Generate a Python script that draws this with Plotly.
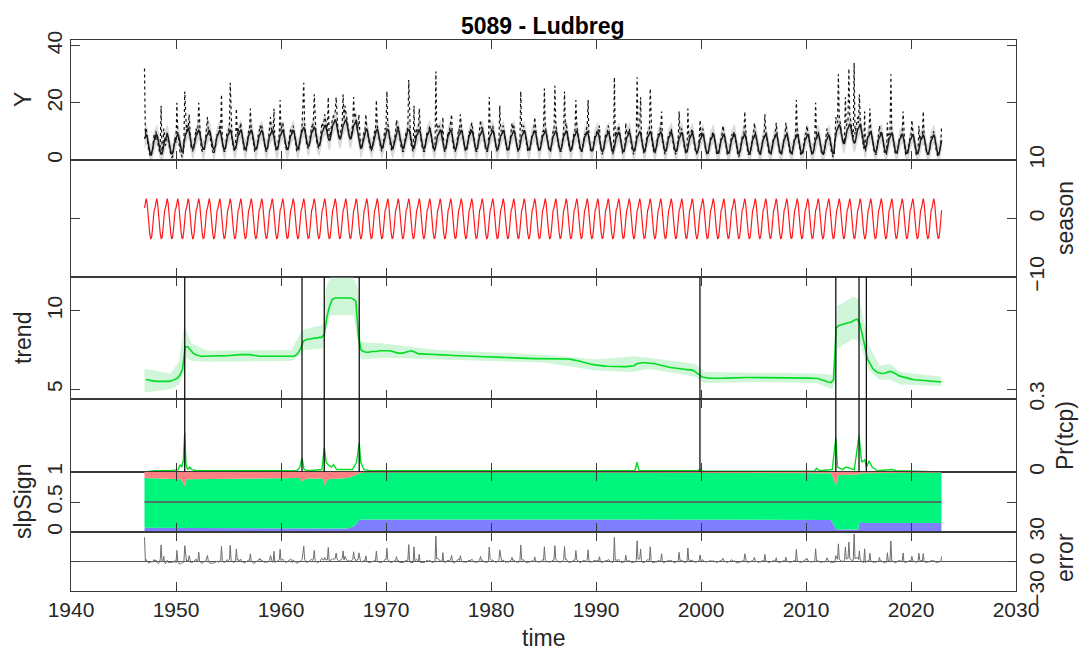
import numpy as np
import plotly.graph_objects as go

FONT = "Liberation Sans, Arial, Helvetica, sans-serif"

# ---------------- data ----------------
first_year = 1947
# monthly observations (rows: 1947..2022, Jan..Dec)
y_obs_rows = [
    [32, 9, 11, 8, 5, 3, 2, 1, 2, 3, 6, 9],      # 1947
    [7, 10, 8, 6, 4, 3, 5, 19, 2, 4, 11, 6],     # 1948
    [5, 8, 10, 7, 5, 3, 2, 1, 1, 3, 6, 8],       # 1949
    [6, 20, 9, 8, 4, 2, 2, 1, 2, 5, 24, 12],     # 1950
    [10, 12, 11, 16, 8, 5, 4, 3, 4, 6, 9, 11],   # 1951
    [9, 11, 20, 10, 7, 4, 3, 3, 3, 5, 8, 12],    # 1952
    [15, 10, 9, 8, 6, 4, 3, 2, 3, 4, 7, 9],      # 1953
    [8, 10, 12, 11, 23, 6, 4, 3, 3, 5, 9, 10],   # 1954
    [10, 12, 27, 11, 8, 5, 4, 3, 4, 18, 9, 11],  # 1955
    [9, 12, 13, 10, 7, 5, 3, 3, 3, 5, 8, 10],    # 1956
    [10, 18, 11, 9, 7, 4, 3, 3, 4, 5, 9, 10],    # 1957
    [12, 11, 12, 10, 7, 5, 4, 3, 3, 5, 8, 10],   # 1958
    [15, 11, 10, 9, 18, 5, 4, 3, 4, 6, 9, 21],   # 1959
    [10, 12, 13, 11, 7, 5, 4, 3, 4, 6, 9, 11],   # 1960
    [11, 9, 12, 10, 7, 5, 3, 3, 3, 5, 8, 10],    # 1961
    [12, 19, 27, 13, 9, 6, 5, 4, 5, 7, 10, 12],  # 1962
    [11, 14, 23, 12, 9, 6, 5, 4, 5, 7, 11, 13],  # 1963
    [12, 13, 16, 14, 12, 10, 22, 8, 8, 10, 13, 15],  # 1964
    [15, 16, 17, 22, 14, 11, 9, 8, 9, 11, 14, 23],   # 1965
    [14, 19, 17, 15, 12, 10, 9, 8, 8, 10, 13, 22],   # 1966
    [15, 16, 14, 13, 11, 16, 6, 4, 4, 5, 8, 10],     # 1967
    [10, 16, 11, 9, 7, 5, 4, 3, 4, 5, 8, 10],    # 1968
    [10, 21, 12, 10, 7, 5, 4, 3, 4, 5, 9, 11],   # 1969
    [11, 24, 13, 11, 8, 5, 4, 3, 4, 6, 9, 10],   # 1970
    [14, 11, 12, 9, 7, 5, 4, 3, 3, 5, 8, 10],    # 1971
    [10, 12, 28, 10, 7, 5, 4, 3, 19, 6, 9, 11],  # 1972
    [10, 11, 18, 9, 7, 5, 4, 3, 3, 5, 8, 10],    # 1973
    [9, 11, 12, 10, 7, 5, 4, 3, 4, 31, 10, 12],  # 1974
    [11, 12, 11, 10, 8, 15, 4, 3, 3, 5, 8, 10],  # 1975
    [9, 11, 13, 16, 7, 5, 3, 3, 4, 6, 9, 11],    # 1976
    [10, 16, 12, 10, 7, 5, 4, 3, 3, 5, 8, 10],   # 1977
    [9, 11, 13, 11, 8, 5, 4, 3, 3, 5, 8, 10],    # 1978
    [14, 11, 12, 10, 7, 5, 4, 3, 3, 5, 22, 11],  # 1979
    [10, 11, 12, 10, 8, 5, 4, 3, 4, 6, 19, 11],  # 1980
    [10, 11, 12, 10, 7, 5, 4, 3, 3, 5, 8, 10],   # 1981
    [13, 11, 12, 10, 7, 5, 4, 3, 3, 5, 24, 11],  # 1982
    [10, 12, 11, 9, 7, 5, 3, 3, 3, 5, 8, 9],     # 1983
    [9, 11, 15, 10, 8, 5, 4, 3, 3, 5, 8, 10],    # 1984
    [10, 25, 12, 10, 7, 5, 4, 3, 3, 5, 8, 10],   # 1985
    [10, 26, 13, 11, 8, 5, 4, 3, 3, 5, 8, 10],   # 1986
    [24, 12, 13, 10, 7, 5, 4, 3, 3, 5, 8, 10],   # 1987
    [10, 21, 12, 10, 7, 5, 3, 3, 3, 5, 8, 9],    # 1988
    [9, 11, 12, 21, 7, 5, 3, 3, 3, 5, 8, 9],     # 1989
    [9, 10, 11, 10, 12, 5, 3, 2, 3, 4, 7, 9],    # 1990
    [9, 10, 12, 10, 7, 5, 3, 2, 3, 29, 8, 10],   # 1991
    [9, 11, 12, 10, 7, 4, 3, 2, 3, 4, 13, 9],    # 1992
    [9, 10, 11, 9, 6, 4, 3, 2, 3, 4, 8, 29],     # 1993
    [11, 12, 13, 22, 7, 5, 3, 2, 3, 5, 8, 10],   # 1994
    [10, 11, 25, 10, 7, 4, 3, 2, 3, 4, 7, 9],    # 1995
    [9, 10, 12, 17, 7, 4, 3, 2, 3, 5, 8, 9],     # 1996
    [9, 10, 11, 9, 6, 4, 3, 2, 3, 4, 8, 17],     # 1997
    [9, 10, 11, 9, 6, 4, 3, 2, 3, 18, 8, 9],     # 1998
    [9, 10, 11, 9, 6, 4, 3, 2, 3, 4, 8, 14],     # 1999
    [8, 10, 11, 9, 6, 4, 3, 2, 2, 4, 7, 8],      # 2000
    [8, 9, 10, 8, 6, 4, 2, 2, 2, 4, 7, 8],       # 2001
    [9, 12, 10, 8, 6, 4, 2, 2, 2, 4, 7, 9],      # 2002
    [8, 9, 10, 8, 6, 3, 2, 1, 2, 3, 6, 8],       # 2003
    [8, 9, 17, 9, 6, 4, 2, 2, 2, 4, 7, 8],       # 2004
    [9, 13, 10, 8, 6, 4, 2, 2, 2, 4, 7, 8],      # 2005
    [8, 16, 10, 9, 6, 4, 2, 2, 2, 4, 7, 8],      # 2006
    [8, 9, 13, 8, 6, 4, 2, 2, 2, 4, 7, 8],       # 2007
    [8, 13, 10, 8, 6, 4, 2, 2, 2, 4, 7, 8],      # 2008
    [8, 21, 10, 9, 6, 4, 2, 2, 2, 4, 7, 9],      # 2009
    [9, 12, 10, 9, 6, 4, 3, 2, 2, 4, 7, 20],     # 2010
    [8, 9, 10, 8, 6, 4, 2, 2, 2, 3, 6, 8],       # 2011
    [11, 9, 9, 8, 5, 3, 2, 1, 2, 6, 15, 14],     # 2012
    [13, 30, 15, 13, 10, 8, 7, 6, 7, 22, 12, 13],    # 2013
    [14, 32, 16, 14, 11, 9, 8, 34, 9, 11, 14, 15],   # 2014
    [13, 23, 14, 12, 9, 6, 4, 17, 3, 5, 8, 9],       # 2015
    [9, 18, 11, 9, 6, 4, 3, 2, 2, 4, 7, 8],      # 2016
    [12, 9, 10, 9, 6, 4, 2, 2, 2, 13, 7, 9],     # 2017
    [9, 30, 10, 9, 6, 4, 2, 2, 2, 4, 7, 8],      # 2018
    [8, 9, 10, 17, 6, 4, 2, 2, 2, 4, 7, 8],      # 2019
    [8, 14, 10, 8, 6, 4, 2, 2, 2, 12, 7, 8],     # 2020
    [8, 9, 17, 8, 6, 3, 2, 2, 2, 3, 6, 8],       # 2021
    [8, 9, 10, 8, 5, 3, 2, 1, 2, 3, 6, 12],      # 2022
]

# seasonal component, Jan..Dec (same every year)
season_profile = [1.8, 3.0, 3.4, 2.6, 0.6, -1.2, -2.6, -3.4, -3.3, -2.0, 0.2, 1.4]

# trend, quarterly (rows: 1947..2022, Q1..Q4)
trend_q_rows = [
    [5.6, 5.6, 5.55, 5.5], [5.5, 5.5, 5.5, 5.5], [5.5, 5.5, 5.55, 5.6],
    [5.7, 5.9, 6.3, 7.7], [7.7, 7.5, 7.3, 7.2], [7.15, 7.1, 7.1, 7.1],
    [7.1, 7.1, 7.1, 7.1], [7.1, 7.1, 7.12, 7.14], [7.15, 7.17, 7.18, 7.2],
    [7.2, 7.2, 7.2, 7.2], [7.2, 7.15, 7.15, 7.1], [7.1, 7.1, 7.1, 7.1],
    [7.1, 7.1, 7.1, 7.1], [7.1, 7.1, 7.1, 7.1], [7.1, 7.15, 7.3, 7.6],
    [8.05, 8.15, 8.2, 8.2], [8.25, 8.25, 8.3, 8.3], [8.5, 9.6, 10.3, 10.7],
    [10.8, 10.8, 10.8, 10.8], [10.8, 10.8, 10.8, 10.75], [10.6, 8.4, 7.5, 7.4],
    [7.35, 7.35, 7.4, 7.4], [7.4, 7.45, 7.45, 7.45], [7.45, 7.45, 7.4, 7.35],
    [7.3, 7.3, 7.3, 7.35], [7.4, 7.45, 7.4, 7.3], [7.25, 7.25, 7.25, 7.24],
    [7.23, 7.22, 7.21, 7.2], [7.2, 7.19, 7.18, 7.17], [7.16, 7.15, 7.14, 7.13],
    [7.12, 7.12, 7.11, 7.1], [7.1, 7.09, 7.09, 7.08], [7.08, 7.07, 7.07, 7.07],
    [7.07, 7.06, 7.05, 7.04], [7.03, 7.02, 7.01, 7.0], [7.0, 6.99, 6.98, 6.98],
    [6.97, 6.97, 6.96, 6.96], [6.95, 6.95, 6.95, 6.94], [6.94, 6.94, 6.93, 6.93],
    [6.93, 6.93, 6.93, 6.93], [6.93, 6.92, 6.9, 6.88], [6.85, 6.8, 6.75, 6.7],
    [6.66, 6.62, 6.58, 6.55], [6.52, 6.5, 6.48, 6.47], [6.46, 6.45, 6.44, 6.44],
    [6.44, 6.44, 6.44, 6.44], [6.45, 6.46, 6.5, 6.62], [6.68, 6.69, 6.69, 6.68],
    [6.67, 6.65, 6.62, 6.58], [6.55, 6.5, 6.46, 6.42], [6.38, 6.35, 6.33, 6.3],
    [6.28, 6.27, 6.25, 6.24], [6.23, 6.15, 6.05, 5.9], [5.78, 5.74, 5.72, 5.71],
    [5.7, 5.7, 5.7, 5.7], [5.7, 5.71, 5.72, 5.73], [5.74, 5.75, 5.75, 5.75],
    [5.75, 5.75, 5.75, 5.75], [5.75, 5.75, 5.75, 5.75], [5.75, 5.75, 5.75, 5.75],
    [5.75, 5.75, 5.74, 5.74], [5.74, 5.73, 5.73, 5.72], [5.72, 5.72, 5.72, 5.72],
    [5.72, 5.71, 5.7, 5.7], [5.68, 5.62, 5.55, 5.5], [5.46, 5.42, 5.6, 8.9],
    [9.05, 9.1, 9.15, 9.2], [9.25, 9.3, 9.4, 9.45], [9.2, 8.4, 7.5, 6.9],
    [6.6, 6.3, 6.15, 6.05], [6.02, 6.0, 6.05, 6.12], [6.12, 6.05, 5.95, 5.85],
    [5.8, 5.75, 5.7, 5.66], [5.63, 5.6, 5.58, 5.57], [5.55, 5.53, 5.52, 5.5],
    [5.5, 5.49, 5.48, 5.47],
]

# half-width of the fitted-Y credible band
y_ci_half = 3.5

# trend credible interval (knots)
ci_t = [1947.0, 1949.5, 1950.3, 1950.8, 1951.0, 1951.5, 1953.0, 1961.0, 1961.8, 1962.2,
        1964.0, 1964.3, 1964.7, 1966.9, 1967.3, 1967.6, 1970.0, 1975.0, 1985.0, 1990.0,
        1993.5, 1995.0, 1999.5, 2000.3, 2005.0, 2011.0, 2012.5, 2012.8, 2013.0, 2014.5,
        2015.1, 2015.5, 2016.0, 2017.0, 2018.0, 2019.0, 2022.9]
ci_lo = [4.8, 5.0, 5.3, 6.2, 7.0, 6.8, 6.75, 6.8, 7.2, 7.5,
         7.6, 8.7, 9.7, 9.7, 8.0, 6.9, 7.0, 6.9, 6.7, 6.2,
         6.1, 6.3, 5.8, 5.4, 5.45, 5.4, 5.0, 5.5, 7.6, 8.2,
         8.0, 7.2, 6.2, 5.6, 5.6, 5.3, 5.2]
ci_hi = [6.3, 6.0, 6.8, 9.2, 8.7, 7.9, 7.45, 7.5, 8.5, 8.8,
         9.1, 11.5, 12.1, 12.1, 11.5, 8.0, 7.9, 7.5, 7.2, 6.9,
         7.1, 7.0, 6.6, 6.1, 6.05, 6.0, 5.9, 8.0, 10.3, 10.9,
         10.7, 9.3, 7.8, 6.5, 6.6, 6.1, 5.8]

# detected trend changepoints
cp_years = [1950.83, 1962.0, 1964.12, 1967.45, 1999.9, 2012.84, 2015.05, 2015.75]

# probability of trend changepoint (knots)
pr_t = [1947.0, 1948.0, 1949.5, 1950.2, 1950.4, 1950.55, 1950.7, 1950.83, 1950.95, 1951.1,
        1951.3, 1951.5, 1952.0, 1961.5, 1961.8, 1962.0, 1962.2, 1962.6, 1963.9, 1964.12,
        1964.3, 1964.5, 1964.8, 1965.0, 1965.3, 1966.8, 1967.2, 1967.45, 1967.6, 1967.9,
        1968.5, 1993.7, 1993.9, 1994.1, 1999.6, 1999.9, 2000.2, 2010.8, 2011.0, 2011.3,
        2012.5, 2012.84, 2013.0, 2013.5, 2013.8, 2014.2, 2014.6, 2015.05, 2015.3, 2015.6,
        2015.75, 2016.0, 2016.3, 2016.8, 2018.2, 2018.6, 2022.9]
pr_v = [0.0, 0.005, 0.005, 0.01, 0.03, 0.02, 0.05, 0.16, 0.03, 0.01,
        0.02, 0.01, 0.005, 0.005, 0.02, 0.058, 0.01, 0.005, 0.01, 0.10,
        0.04, 0.03, 0.02, 0.03, 0.01, 0.01, 0.04, 0.12, 0.04, 0.01,
        0.005, 0.005, 0.04, 0.005, 0.005, 0.01, 0.003, 0.003, 0.015, 0.005,
        0.01, 0.14, 0.02, 0.01, 0.02, 0.015, 0.01, 0.15, 0.04, 0.05,
        0.02, 0.045, 0.02, 0.005, 0.01, 0.005, 0.0]

# probability of positive / negative slope (knots)
slp_t = [1947.0, 1950.5, 1950.83, 1951.0, 1961.8, 1962.0, 1962.4, 1964.0, 1964.15, 1964.4,
         1966.3, 1967.0, 1967.45, 1968.0, 1990.0, 2012.4, 2012.85, 2013.1, 2015.0, 2015.05,
         2015.3, 2022.9]
slp_pos = [0.07, 0.07, 0.06, 0.06, 0.07, 0.07, 0.07, 0.06, 0.05, 0.06,
           0.06, 0.10, 0.20, 0.21, 0.21, 0.20, 0.05, 0.04, 0.04, 0.18,
           0.15, 0.15]
slp_neg = [0.10, 0.12, 0.24, 0.12, 0.10, 0.16, 0.11, 0.11, 0.22, 0.12,
           0.10, 0.06, 0.02, 0.01, 0.01, 0.02, 0.22, 0.05, 0.04, 0.02,
           0.02, 0.01]

x_ticks = [1940, 1950, 1960, 1970, 1980, 1990, 2000, 2010, 2020, 2030]

# ---------------- derived series ----------------
n_years = len(y_obs_rows)
t_month = np.array([first_year + i / 12.0 for i in range(n_years * 12)])
y_obs = np.array(y_obs_rows, dtype=float).ravel()
trend_q = np.array(trend_q_rows, dtype=float).ravel()
t_q = np.array([first_year + 0.125 + 0.25 * i for i in range(len(trend_q))])
season = np.tile(np.array(season_profile), n_years)
fitted = np.repeat(trend_q, 3) + season
error = y_obs - fitted
t_end = float(t_month[-1])

# ---------------- figure ----------------
W, H = 1081, 650
ML, MR, MT, MB = 71, 65, 40, 59
PW, PH = W - ML - MR, H - MT - MB
bounds = [40, 160, 277, 399, 472, 532, 591]


def px_x(px):
    return (px - ML) / PW


def px_y(py):
    return (H - MB - py) / PH


fig = go.Figure()
LINE_C = "#3a3a3a"
TXT_C = "#262626"

# panel 1: Y
fig.add_trace(go.Scatter(x=t_month, y=fitted - y_ci_half, mode="lines",
                         line=dict(width=0, color="#d9d9d9"), showlegend=False,
                         xaxis="x", yaxis="y", hoverinfo="skip"))
fig.add_trace(go.Scatter(x=t_month, y=fitted + y_ci_half, mode="lines", fill="tonexty",
                         fillcolor="#dadada", line=dict(width=0, color="#d9d9d9"),
                         showlegend=False, xaxis="x", yaxis="y", hoverinfo="skip"))
fig.add_trace(go.Scatter(x=t_month, y=y_obs, mode="lines",
                         line=dict(color="#111111", width=1.2, dash="dot"),
                         showlegend=False, xaxis="x", yaxis="y"))
fig.add_trace(go.Scatter(x=t_month, y=fitted, mode="lines",
                         line=dict(color="#1a1a1a", width=1.5),
                         showlegend=False, xaxis="x", yaxis="y"))

# panel 2: season
fig.add_trace(go.Scatter(x=t_month, y=season, mode="lines",
                         line=dict(color="#ff1a1a", width=1.2),
                         showlegend=False, xaxis="x2", yaxis="y2"))

# panel 3: trend
fig.add_trace(go.Scatter(x=ci_t + ci_t[::-1], y=ci_hi + ci_lo[::-1], mode="lines",
                         fill="toself", fillcolor="#cff6d8", line=dict(width=0),
                         showlegend=False, xaxis="x3", yaxis="y3", hoverinfo="skip"))
fig.add_trace(go.Scatter(x=t_q, y=trend_q, mode="lines",
                         line=dict(color="#00dd22", width=1.6),
                         showlegend=False, xaxis="x3", yaxis="y3"))

# panel 4: Pr(tcp)
fig.add_trace(go.Scatter(x=pr_t, y=pr_v, mode="lines",
                         line=dict(color="#00dd22", width=1.4),
                         showlegend=False, xaxis="x4", yaxis="y4"))

# panel 5: slope sign
slp_top_green = [1.0 - v for v in slp_neg]
fig.add_trace(go.Scatter(x=slp_t, y=slp_pos, mode="lines", fill="tozeroy",
                         fillcolor="#7f7fff", line=dict(width=0, color="#7f7fff"),
                         showlegend=False, xaxis="x5", yaxis="y5"))
fig.add_trace(go.Scatter(x=slp_t, y=slp_top_green, mode="lines", fill="tonexty",
                         fillcolor="#00f57c", line=dict(width=0, color="#00f57c"),
                         showlegend=False, xaxis="x5", yaxis="y5"))
fig.add_trace(go.Scatter(x=slp_t, y=[1.0] * len(slp_t), mode="lines", fill="tonexty",
                         fillcolor="#ff8080", line=dict(width=0, color="#ff8080"),
                         showlegend=False, xaxis="x5", yaxis="y5"))
fig.add_trace(go.Scatter(x=[first_year, t_end], y=[0.5, 0.5], mode="lines",
                         line=dict(color="#6a4f5c", width=1.6),
                         showlegend=False, xaxis="x5", yaxis="y5"))

# panel 6: error
fig.add_trace(go.Scatter(x=t_month, y=error, mode="lines",
                         line=dict(color="#6e6e6e", width=1.0),
                         showlegend=False, xaxis="x6", yaxis="y6"))

# changepoint lines
shapes = []
for cp in cp_years:
    for k in (3, 4):
        shapes.append(dict(type="line", xref=f"x{k}", yref=f"y{k} domain",
                           x0=cp, x1=cp, y0=0, y1=1,
                           line=dict(color="#111111", width=1.3)))

axis_base = dict(showline=True, linecolor=LINE_C, linewidth=1, mirror="ticks",
                 ticks="inside", ticklen=9, tickwidth=1.2, tickcolor=LINE_C,
                 showgrid=False, zeroline=False,
                 tickfont=dict(family=FONT, size=21, color=TXT_C))

yspecs = [
    dict(range=[0, 42], tickvals=[0, 20, 40], side="left"),
    dict(range=[-10, 10], tickvals=[-10, 0, 10], side="right"),
    dict(range=[4.38, 12.14], tickvals=[5, 10], side="left"),
    dict(range=[0, 0.3], tickvals=[0, 0.3], ticktext=["0", "0.3"], side="right"),
    dict(range=[0, 1], tickvals=[0, 0.5, 1], ticktext=["0", "0.5", "1"], side="left"),
    dict(range=[-30, 30], tickvals=[-30, 0, 30], side="right",
         zeroline=True, zerolinecolor="#555555", zerolinewidth=1.3),
]

layout = dict(width=W, height=H, margin=dict(l=ML, r=MR, t=MT, b=MB),
              paper_bgcolor="white", plot_bgcolor="white", showlegend=False,
              shapes=shapes)
for i in range(6):
    k = "" if i == 0 else str(i + 1)
    top_px, bot_px = bounds[i], bounds[i + 1]
    dom = [px_y(bot_px), px_y(top_px)]
    xa = dict(axis_base, range=[1940, 2030], tickvals=x_ticks, anchor=f"y{k}",
              domain=[0, 1], showticklabels=(i == 5))
    if i > 0:
        xa["matches"] = "x"
    ya = dict(axis_base, domain=dom, anchor=f"x{k}", tickangle=-90)
    ya.update(yspecs[i])
    ya["ticklabelstandoff"] = 0 if ya["side"] == "left" else 2
    layout[f"xaxis{k}"] = xa
    layout[f"yaxis{k}"] = ya

# axis titles and main title as annotations
ann = []
tfont = dict(family=FONT, size=23, color=TXT_C)
left_titles = [("Y", 100), ("trend", 338), ("slpSign", 502)]
right_titles = [("season", 218), ("Pr(tcp)", 436), ("error", 558)]
for txt, py in left_titles:
    ann.append(dict(text=txt, x=px_x(23), y=px_y(py), xref="paper", yref="paper",
                    textangle=-90, showarrow=False, font=tfont,
                    xanchor="center", yanchor="middle"))
for txt, py in right_titles:
    ann.append(dict(text=txt, x=px_x(1065), y=px_y(py), xref="paper", yref="paper",
                    textangle=-90, showarrow=False, font=tfont,
                    xanchor="center", yanchor="middle"))
ann.append(dict(text="time", x=px_x(543), y=px_y(638), xref="paper", yref="paper",
                showarrow=False, font=tfont, xanchor="center", yanchor="middle"))
ann.append(dict(text="<b>5089 - Ludbreg</b>", x=px_x(543), y=px_y(26),
                xref="paper", yref="paper", showarrow=False,
                font=dict(family=FONT, size=23, color="#000000"),
                xanchor="center", yanchor="middle"))
layout["annotations"] = ann

fig.update_layout(**layout)
fig.write_html("out.html")
